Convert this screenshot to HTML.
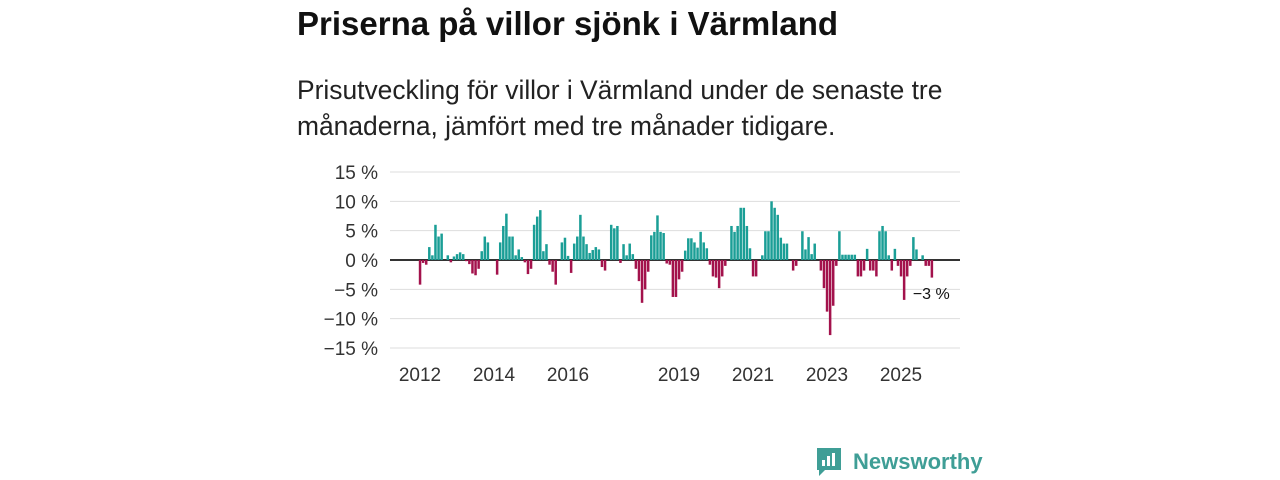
<!DOCTYPE html>
<html><head><meta charset="utf-8"><style>
body{margin:0;width:1280px;height:480px;background:#fff;font-family:"Liberation Sans","DejaVu Sans",sans-serif;overflow:hidden;position:relative}
#title{position:absolute;left:297px;top:5px;font-size:33px;font-weight:bold;color:#111;margin:0;white-space:nowrap}
#sub{position:absolute;left:297px;top:72px;font-size:26.4px;line-height:36px;color:#222;width:690px}
svg{position:absolute;left:0;top:0}
</style></head><body>
<h1 id="title">Priserna på villor sjönk i Värmland</h1>
<div id="sub">Prisutveckling för villor i Värmland under de senaste tre månaderna, jämfört med tre månader tidigare.</div>
<svg id="chart" width="1280" height="480"></svg>
<script>
const values=[-4.2,-0.5,-0.8,2.2,0.8,6.0,4.0,4.5,0,0.8,-0.4,0.6,1.0,1.3,1.0,-0.2,-0.7,-2.3,-2.6,-1.5,1.5,4.0,3.0,0,0,-2.5,3.0,5.8,7.9,4.0,4.0,0.8,1.8,0.5,-0.4,-2.4,-1.5,6.0,7.4,8.5,1.5,2.7,-0.8,-2.0,-4.2,0,3.0,3.8,0.7,-2.2,2.8,4.0,7.7,4.0,2.7,1.2,1.7,2.2,1.8,-1.2,-1.8,0,6.0,5.4,5.8,-0.5,2.7,0.8,2.8,1.0,-1.5,-3.6,-7.3,-5.0,-2.0,4.2,4.8,7.6,4.8,4.6,-0.6,-0.8,-6.3,-6.3,-3.3,-2.0,1.6,3.7,3.7,3.0,2.1,4.8,3.0,2.0,-0.8,-2.8,-3.0,-4.8,-2.8,-1.0,0,5.8,4.8,5.8,8.9,8.9,5.8,2.0,-2.8,-2.8,0,0.8,4.9,4.9,10.0,8.9,7.7,3.8,2.8,2.8,0,-1.8,-1.0,0,4.9,1.8,3.9,1.0,2.8,0,-1.8,-4.8,-8.8,-12.8,-7.8,-1.0,4.9,0.9,0.9,0.9,0.9,0.9,-2.8,-2.8,-1.8,1.9,-1.8,-1.8,-2.8,4.9,5.8,4.9,0.8,-1.8,1.9,-1.0,-2.8,-6.8,-2.8,-1.0,3.9,1.8,0,0.8,-1.0,-1.0,-3.0];
const startYear=2012;
const yTicks=[15,10,5,0,-5,-10,-15];
const xYears=[2012,2014,2016,2019,2021,2023,2025];
const lastLabel="−3 %";
const svg=document.getElementById('chart');const NS='http://www.w3.org/2000/svg';
const x=m=>420+m*(37/12);const y=v=>260-v*(88/15);
function mk(t,a,p){const e=document.createElementNS(NS,t);for(const k in a)e.setAttribute(k,a[k]);(p||svg).appendChild(e);return e;}
yTicks.forEach(t=>{
 const l=mk('line',{x1:390,x2:960,y1:y(t),y2:y(t),stroke:t===0?'#333':'#ddd','stroke-width':t===0?2:1});
 
 
 const tx=mk('text',{x:378,y:y(t)+7,'text-anchor':'end','font-size':19,fill:'#333'});
 tx.textContent=(t<0?'−'+(-t):t)+' %';
 
 
});
xYears.forEach(yr=>{
 const tx=mk('text',{x:x((yr-startYear)*12),y:381,'text-anchor':'middle','font-size':19,fill:'#333'});
 tx.textContent=yr;
 
 
});
values.forEach((v,i)=>{
 if(v===0)return;
 const r=mk('rect',{x:x(i)-1.2,width:2.5,y:Math.min(y(v),y(0)),height:Math.abs(y(v)-y(0)),fill:v>0?'#1a9e96':'#a3124c'});
 
 
});
const li=values.length-1;
const lb=mk('text',{x:x(li)-19,y:299,'font-size':16,fill:'#111'});
lb.textContent=lastLabel;


</script>
<div style="position:absolute;left:815px;top:446px;display:flex;align-items:center">
<svg width="28" height="32" style="position:static"><path d="M2 2h24v22H10l-6 6v-6H2z" fill="#3f9e96"/><rect x="7" y="14" width="3" height="6" fill="#fff"/><rect x="12" y="10" width="3" height="10" fill="#fff"/><rect x="17" y="7" width="3" height="13" fill="#fff"/></svg>
<span style="margin-left:10px;font-size:22px;font-weight:bold;color:#3f9e96">Newsworthy</span></div>
</body></html>
